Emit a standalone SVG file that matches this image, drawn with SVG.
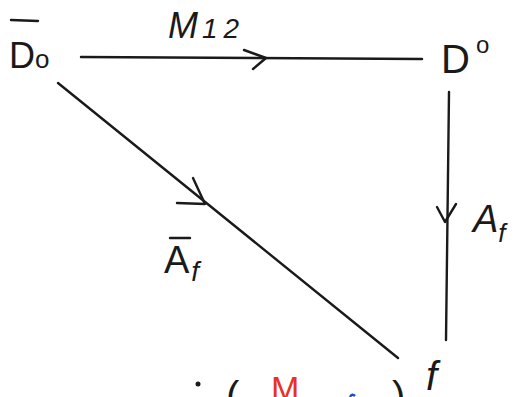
<svg xmlns="http://www.w3.org/2000/svg" width="514" height="397" viewBox="0 0 514 397">
<style>
.t{font-family:"Liberation Sans","DejaVu Sans",sans-serif;fill:#1a1a1a}
.ln{stroke:#1a1a1a;stroke-width:2.4;fill:none;stroke-linecap:round;stroke-linejoin:round}
</style>
<rect width="514" height="397" fill="#fff"/>
<g id="connectors">
  <g id="edge-M12">
    <line class="ln" x1="81" y1="57" x2="422" y2="59"/>
    <polyline class="ln" points="244,50 266,58 253,69"/>
    <text class="t" x="168" y="38" font-size="36" font-style="italic">M<tspan font-size="28" dx="4" letter-spacing="6">12</tspan></text>
  </g>
  <g id="edge-Af">
    <line class="ln" x1="449" y1="92" x2="446" y2="340"/>
    <polyline class="ln" points="437,207 445,222 456,204"/>
    <text class="t" x="473" y="232" font-size="38" font-style="italic">A<tspan font-size="26" dy="10">f</tspan></text>
  </g>
  <g id="edge-Abarf">
    <line class="ln" x1="58" y1="83" x2="398" y2="358"/>
    <polyline class="ln" points="193,178 205,204 177,203"/>
    <line class="ln" x1="170" y1="238" x2="190" y2="238"/>
    <text class="t" x="164" y="273" font-size="38">A<tspan font-size="28" dy="8" font-style="italic" dx="2">f</tspan></text>
  </g>
</g>
<g id="node-D0bar">
  <line class="ln" x1="11" y1="20" x2="38" y2="21"/>
  <text class="t" x="9" y="68" font-size="36">D<tspan font-size="26">o</tspan></text>
</g>
<g id="node-D0">
  <text class="t" x="441" y="73" font-size="40">D<tspan font-size="24" dy="-20" dx="6">o</tspan></text>
</g>
<g id="node-f">
  <text class="t" x="426" y="390" font-size="40" font-style="italic">f</text>
</g>
<g id="bottom">
  <circle cx="198" cy="384" r="2.5" fill="#1a1a1a"/>
  <text class="t" x="226" y="410" font-size="40">(</text>
  <text x="271" y="400" font-size="34" fill="#e8321e" font-family="Liberation Sans,sans-serif">M</text>
  <path d="M350,397 Q352,393 355,396" stroke="#1a4fc0" stroke-width="2.5" fill="none"/>
  <text class="t" x="392" y="410" font-size="40">)</text>
</g>
</svg>
